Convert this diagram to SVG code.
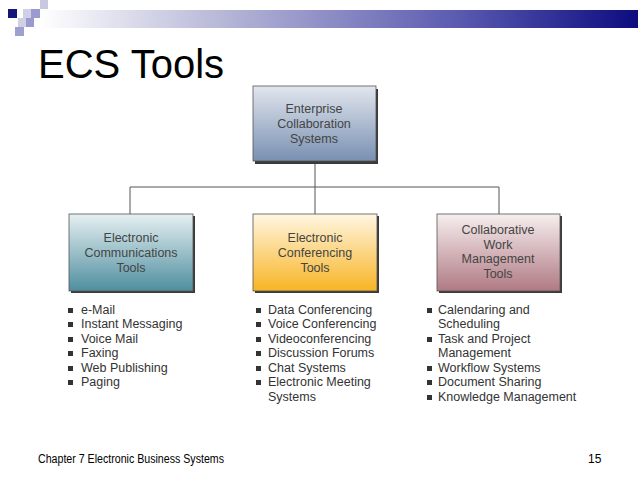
<svg xmlns="http://www.w3.org/2000/svg" width="638" height="479" viewBox="0 0 638 479">
<defs>
<linearGradient id="bar" x1="0" y1="0" x2="1" y2="0">
<stop offset="0" stop-color="#ffffff"/>
<stop offset="0.3" stop-color="#b8b8d8"/>
<stop offset="0.7" stop-color="#5a5ab0"/>
<stop offset="1" stop-color="#0c0c80"/>
</linearGradient>
<linearGradient id="gTop" x1="0" y1="0" x2="0" y2="1">
<stop offset="0" stop-color="#e2e6ee"/>
<stop offset="1" stop-color="#7990b2"/>
</linearGradient>
<linearGradient id="gBlue" x1="0" y1="0" x2="0" y2="1">
<stop offset="0" stop-color="#e6f0f2"/>
<stop offset="1" stop-color="#4f8e9f"/>
</linearGradient>
<linearGradient id="gYel" x1="0" y1="0" x2="0" y2="1">
<stop offset="0" stop-color="#fff6e2"/>
<stop offset="1" stop-color="#f8b424"/>
</linearGradient>
<linearGradient id="gRed" x1="0" y1="0" x2="0" y2="1">
<stop offset="0" stop-color="#f6eeee"/>
<stop offset="1" stop-color="#b07a84"/>
</linearGradient>
</defs>
<style>
.shadow{fill:#3a3a3a}
.box{stroke:#555;stroke-width:0.8}
.bt{font-family:"Liberation Sans",Arial,sans-serif;font-size:12.5px;fill:#444;text-anchor:middle}
.li{font-family:"Liberation Sans",Arial,sans-serif;font-size:12.5px;fill:#333}
.bul{fill:#333}
.con{stroke:#555;stroke-width:1;fill:none}
.ft{font-family:"Liberation Sans",Arial,sans-serif;font-size:12px;fill:#000}
</style>
<rect width="638" height="479" fill="#fff"/>
<g id="header">
<rect x="40" y="10" width="598" height="18" fill="url(#bar)"/>
<rect x="40" y="0" width="8" height="9" fill="#c8c8e0"/>
<rect x="8" y="9" width="9" height="9" fill="#16167a"/>
<rect x="23" y="9" width="8" height="9" fill="#cfcfe6"/>
<rect x="31" y="9" width="9" height="9" fill="#9a9ad0"/>
<rect x="18" y="18" width="8" height="9" fill="#cfcfe6"/>
<rect x="26" y="18" width="8" height="9" fill="#9a9ad0"/>
<rect x="15" y="27" width="9" height="9" fill="#a0a0d0"/>
<text x="38" y="78" font-family="Liberation Sans,Arial,sans-serif" font-size="40" fill="#000">ECS Tools</text>
</g>
<g id="connectors">
<path class="con" d="M315 163V187M130 187H499M130 187V214M315 187V214M499 187V214"/>
</g>
<g id="ecs">
<rect class="shadow" x="255" y="89" width="123" height="75"/>
<rect class="box" x="253" y="86" width="123" height="75" fill="url(#gTop)"/>
<text class="bt" x="314" y="113">Enterprise</text>
<text class="bt" x="314" y="128">Collaboration</text>
<text class="bt" x="314" y="143">Systems</text>
</g>
<g id="ect">
<rect class="shadow" x="71" y="216" width="124" height="77"/>
<rect class="box" x="69" y="214" width="124" height="77" fill="url(#gBlue)"/>
<text class="bt" x="131" y="242">Electronic</text>
<text class="bt" x="131" y="257">Communications</text>
<text class="bt" x="131" y="272">Tools</text>
</g>
<g id="econf">
<rect class="shadow" x="255" y="216" width="124" height="77"/>
<rect class="box" x="253" y="214" width="124" height="77" fill="url(#gYel)"/>
<text class="bt" x="315" y="242">Electronic</text>
<text class="bt" x="315" y="257">Conferencing</text>
<text class="bt" x="315" y="272">Tools</text>
</g>
<g id="cwm">
<rect class="shadow" x="439" y="216" width="123" height="77"/>
<rect class="box" x="437" y="214" width="123" height="77" fill="url(#gRed)"/>
<text class="bt" x="498" y="234">Collaborative</text>
<text class="bt" x="498" y="249">Work</text>
<text class="bt" x="498" y="263">Management</text>
<text class="bt" x="498" y="278">Tools</text>
</g>
<g id="list1">
<rect class="bul" x="68" y="308" width="5" height="5"/><text class="li" x="81" y="314">e-Mail</text>
<rect class="bul" x="68" y="322" width="5" height="5"/><text class="li" x="81" y="328">Instant Messaging</text>
<rect class="bul" x="68" y="337" width="5" height="5"/><text class="li" x="81" y="343">Voice Mail</text>
<rect class="bul" x="68" y="351" width="5" height="5"/><text class="li" x="81" y="357">Faxing</text>
<rect class="bul" x="68" y="366" width="5" height="5"/><text class="li" x="81" y="372">Web Publishing</text>
<rect class="bul" x="68" y="380" width="5" height="5"/><text class="li" x="81" y="386">Paging</text>
</g>
<g id="list2">
<rect class="bul" x="256" y="308" width="5" height="5"/><text class="li" x="268" y="314">Data Conferencing</text>
<rect class="bul" x="256" y="322" width="5" height="5"/><text class="li" x="268" y="328">Voice Conferencing</text>
<rect class="bul" x="256" y="337" width="5" height="5"/><text class="li" x="268" y="343">Videoconferencing</text>
<rect class="bul" x="256" y="351" width="5" height="5"/><text class="li" x="268" y="357">Discussion Forums</text>
<rect class="bul" x="256" y="366" width="5" height="5"/><text class="li" x="268" y="372">Chat Systems</text>
<rect class="bul" x="256" y="380" width="5" height="5"/><text class="li" x="268" y="386">Electronic Meeting</text>
<text class="li" x="268" y="401">Systems</text>
</g>
<g id="list3">
<rect class="bul" x="427" y="308" width="5" height="5"/><text class="li" x="438" y="314">Calendaring and</text>
<text class="li" x="438" y="328">Scheduling</text>
<rect class="bul" x="427" y="337" width="5" height="5"/><text class="li" x="438" y="343">Task and Project</text>
<text class="li" x="438" y="357">Management</text>
<rect class="bul" x="427" y="366" width="5" height="5"/><text class="li" x="438" y="372">Workflow Systems</text>
<rect class="bul" x="427" y="380" width="5" height="5"/><text class="li" x="438" y="386">Document Sharing</text>
<rect class="bul" x="427" y="395" width="5" height="5"/><text class="li" x="438" y="401">Knowledge Management</text>
</g>
<g id="footer">
<text class="ft" x="38" y="463" textLength="186" lengthAdjust="spacingAndGlyphs">Chapter 7 Electronic Business Systems</text>
<text class="ft" x="588" y="463">15</text>
</g>
</svg>
